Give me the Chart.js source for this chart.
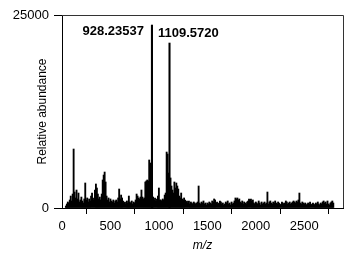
<!DOCTYPE html>
<html>
<head>
<meta charset="utf-8">
<script src="https://cdn.jsdelivr.net/npm/chart.js@4.4.1/dist/chart.umd.min.js"></script>
<style>
  html, body { margin: 0; padding: 0; background: #fff; }
  canvas { display: block; }
</style>
</head>
<body>
<canvas id="spectrumChart" width="352" height="255"></canvas>
<script>
// spectrum sampled every 10 m/z, starting at m/z 40
const mzStart = 40;
const mzStep = 10;
const abundance = [
  260, 520, 780, 650, 1040, 1550,
  910, 1810, 7640, 2070, 1300, 2330, 1170, 1940, 780, 1040,
  1420, 910, 650, 1170, 3240, 1040, 1300, 780, 1170, 910,
  1550, 1940, 1300, 1040, 2330, 3110, 2590, 1810, 1170, 1420,
  1040, 1810, 3630, 4270, 4660, 3370, 1550, 1040, 1300, 780,
  1170, 910, 780, 1040, 650, 910, 1040, 780, 1300, 2460,
  1170, 1680, 1300, 910, 650, 780, 520, 910, 650, 1550,
  780, 650, 910, 520, 780, 650, 1040, 1810, 1550, 1300,
  1170, 1420, 2330, 1420, 1170, 1300, 3370, 3500, 3630, 3500,
  6220, 5830, 3890, 1940, 1420, 1040, 1300, 910, 1170, 1550,
  2590, 1040, 1040, 910, 1170, 1040, 1680, 1940, 7250, 6990,
  4530, 3000, 3890, 2850, 2330, 1940, 3370, 2590, 3240, 2850,
  2460, 1550, 1300, 1940, 1170, 1040, 1300, 1040, 780, 910,
  650, 910, 520, 780, 650, 520, 780, 650, 520, 650,
  780, 2850, 650, 520, 780, 650, 910, 520, 650, 390,
  650, 520, 780, 650, 520, 910, 780, 1170, 1040, 650,
  780, 520, 650, 910, 780, 520, 650, 390, 520, 780,
  650, 910, 520, 650, 390, 780, 520, 650, 910, 1300,
  1170, 1300, 1040, 1170, 780, 650, 910, 520, 780, 650,
  520, 780, 910, 1170, 1040, 1170, 910, 1040, 650, 520,
  780, 650, 520, 910, 650, 390, 780, 520, 650, 780,
  520, 650, 2070, 520, 780, 910, 650, 520, 780, 650,
  910, 650, 520, 780, 650, 390, 520, 780, 650, 520,
  650, 910, 780, 520, 650, 780, 520, 650, 780, 910,
  780, 650, 910, 780, 1040, 1940, 650, 520, 780, 650,
  520, 650, 390, 520, 650, 520, 780, 390, 520, 650,
  520, 390, 650, 520, 780, 520, 390, 650, 520, 780,
  910, 650, 780, 520, 910, 520, 390, 650, 780, 910, 650
];

const peakMz = [928.23537, 1109.5720];
const peakAbundance = [23700, 21370];
const peakLabels = ['928.23537', '1109.5720'];

const xTicks = [0, 500, 1000, 1500, 2000, 2500];
const yTicks = [0, 25000];

const FONT = '"Liberation Sans", Arial, sans-serif';
Chart.defaults.font.family = FONT;
Chart.defaults.color = '#000';

// top + right frame of the plot box
const framePlugin = {
  id: 'frame',
  afterDraw(chart) {
    const { ctx, chartArea: a } = chart;
    ctx.save();
    ctx.strokeStyle = '#333';
    ctx.lineWidth = 1;
    ctx.beginPath();
    ctx.moveTo(a.left, a.top + 0.5);
    ctx.lineTo(a.right + 0.5, a.top + 0.5);
    ctx.lineTo(a.right + 0.5, a.bottom);
    ctx.stroke();
    ctx.restore();
  }
};

const peakLabelPlugin = {
  id: 'peakLabels',
  afterDatasetsDraw(chart) {
    const { ctx, scales: { x, y } } = chart;
    const px = x.getPixelForValue(peakMz[0]);
    ctx.save();
    ctx.font = 'bold 13px ' + FONT;
    ctx.fillStyle = '#000';
    ctx.textBaseline = 'middle';
    ctx.textAlign = 'right';
    ctx.fillText(peakLabels[0], px - 8, y.getPixelForValue(peakAbundance[0]) + 6);
    ctx.textAlign = 'left';
    ctx.fillText(peakLabels[1], px + 6, y.getPixelForValue(peakAbundance[1]) - 10);
    ctx.restore();
  }
};

new Chart(document.getElementById('spectrumChart'), {
  type: 'bar',
  data: {
    datasets: [
      {
        data: abundance.map((v, i) => ({ x: mzStart + i * mzStep, y: v })),
        backgroundColor: '#000',
        barThickness: 1.2,
        grouped: false
      },
      {
        data: peakMz.map((m, i) => ({ x: m, y: peakAbundance[i] })),
        backgroundColor: '#000',
        barThickness: 1.4,
        grouped: false
      }
    ]
  },
  options: {
    responsive: false,
    animation: false,
    layout: { padding: { top: 15, right: 9, left: 0, bottom: 0 } },
    plugins: { legend: { display: false }, tooltip: { enabled: false } },
    scales: {
      x: {
        type: 'linear',
        min: 0, max: 2900,
        offset: false,
        afterBuildTicks: s => { s.ticks = xTicks.map(v => ({ value: v })); },
        afterFit: s => { s.height = 47; },
        grid: { display: true, drawOnChartArea: false, drawTicks: true, tickLength: 6, color: '#000' },
        border: { display: true, color: '#000', width: 1 },
        ticks: { font: { size: 13 }, padding: 5, maxRotation: 0, callback: v => String(v) },
        title: { display: true, text: 'm/z', font: { size: 12, style: 'italic' }, padding: { top: 0, bottom: 2 } }
      },
      y: {
        min: 0, max: 25000,
        afterBuildTicks: s => { s.ticks = yTicks.map(v => ({ value: v })); },
        afterFit: s => { s.width = 62; },
        grid: { display: true, drawOnChartArea: false, drawTicks: true, tickLength: 8, color: '#000' },
        border: { display: true, color: '#000', width: 1 },
        ticks: { font: { size: 13 }, padding: 5, callback: v => String(v) },
        title: { display: true, text: 'Relative abundance', font: { size: 12 }, padding: { top: 35, bottom: 0 } }
      }
    }
  },
  plugins: [framePlugin, peakLabelPlugin]
});
</script>
</body>
</html>
